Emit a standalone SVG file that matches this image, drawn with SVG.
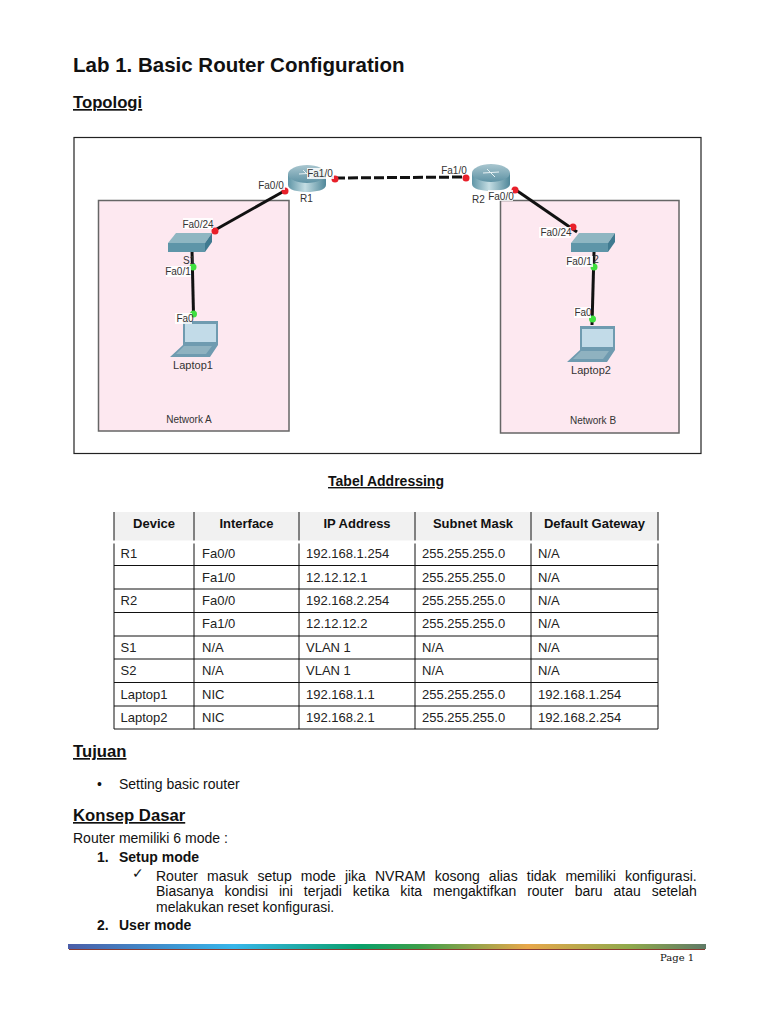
<svg xmlns="http://www.w3.org/2000/svg" width="768" height="1024" viewBox="0 0 768 1024">
<style>
text{font-family:"Liberation Sans",Arial,sans-serif;fill:#111}
.h1{font-size:20.500px;font-weight:700}
.h2{font-size:16.700px;font-weight:700;text-decoration:underline}
.b{font-size:14px}
.bb{font-size:14px;font-weight:700}
.th{font-size:13px;font-weight:700;text-anchor:middle}
.td{font-size:13px;fill:#222}
.n{font-size:10px;fill:#333}
.l{font-size:11px;fill:#333}
.wl{fill:#fff;opacity:.85}
.tl{stroke:#111;stroke-width:1;fill:none}
.pink{fill:#fde8f0;stroke:#666;stroke-width:1.500}
.link{stroke:#111;stroke-width:3;fill:none}
.red{fill:#e8202a}
.green{fill:#3fe03f}
</style>
<defs>
<linearGradient id="rg" x1="0" y1="0" x2="0" y2="1"><stop offset="0" stop-color="#a9c6cf"/><stop offset="1" stop-color="#5f93a5"/></linearGradient>
<linearGradient id="rb" x1="0" y1="0" x2="1" y2="0"><stop offset="0" stop-color="#5f95a6"/><stop offset=".45" stop-color="#c4dde3"/><stop offset="1" stop-color="#4f8799"/></linearGradient>
<linearGradient id="bar" x1="0" y1="0" x2="1" y2="0"><stop offset="0" stop-color="#4b5ea8"/><stop offset=".26" stop-color="#37b6ea"/><stop offset=".46" stop-color="#0aa06a"/><stop offset=".55" stop-color="#3c9f4a"/><stop offset=".72" stop-color="#e8a74a"/><stop offset=".88" stop-color="#8fa94c"/><stop offset="1" stop-color="#5f7a66"/></linearGradient>
<g id="router"><path d="M-19 -3V8C-19 13 -9 15 0 15S19 13 19 8V-3Z" fill="url(#rb)"/><ellipse cx="0" cy="-3" rx="19" ry="9" fill="url(#rg)"/><path d="M-8 -3L8 -4M-4 -7L4 1" stroke="#e6f1f4" stroke-width="1" fill="none"/></g>
<g id="switch"><path d="M0 10L8 0H44L37 10Z" fill="#8fb6c2"/><path d="M0 10H37V19H0Z" fill="#5e95a8"/><path d="M37 10L44 0V9L37 19Z" fill="#3f7a90"/></g>
<g id="laptop"><path d="M13 0H48V24L40 36H0L13 24Z" fill="#6f9bb0"/><rect x="15" y="3" width="31" height="18" fill="#c2dbe8"/><path d="M6 33L14 25H42L36 33Z" fill="#8fb2c0"/></g>
</defs>
<text class="h1" x="73" y="72">Lab 1. Basic Router Configuration</text>
<text class="h2" x="73" y="108">Topologi</text>
<g id="frame"><rect x="74" y="137.500" width="627" height="316" fill="#fff" stroke="#222" stroke-width="1.200"/></g>
<g id="network-a"><rect class="pink" x="98.500" y="200.500" width="190.500" height="230.500"/><text class="n" x="189" y="423" text-anchor="middle">Network A</text></g>
<g id="network-b"><rect class="pink" x="500.500" y="200.500" width="178.500" height="232.500"/><text class="n" x="593" y="424" text-anchor="middle">Network B</text></g>
<g id="connectors">
<path class="link" d="M286 190L215 230"/>
<path class="link" stroke-dasharray="10 3" d="M335 178L468 177"/>
<path class="link" d="M513 188L577 232"/>
<path class="link" d="M192 250L193.500 314"/>
<path class="link" d="M594 252L592 325"/>
<circle class="red" cx="285" cy="191" r="3.500"/><circle class="red" cx="335" cy="179" r="3.500"/><circle class="red" cx="215" cy="231" r="3.500"/><circle class="red" cx="466" cy="178" r="3.500"/><circle class="red" cx="515" cy="190" r="3.500"/><circle class="red" cx="573" cy="227" r="3.500"/>
<circle class="green" cx="193" cy="267" r="3.500"/><circle class="green" cx="193.500" cy="314" r="3.500"/><circle class="green" cx="594" cy="267" r="3.500"/><circle class="green" cx="592.500" cy="319" r="3.500"/>
</g>
<g id="R1"><use href="#router" x="307" y="177"/><text class="n" x="306.500" y="202" text-anchor="middle">R1</text></g>
<g id="R2"><use href="#router" x="491" y="176"/><text class="n" x="478.500" y="203" text-anchor="middle">R2</text></g>
<g id="S1"><use href="#switch" x="168" y="233"/><text class="n" x="189" y="264" text-anchor="middle">S1</text></g>
<g id="S2"><use href="#switch" x="571" y="233"/><text class="n" x="596" y="263" text-anchor="middle">2</text></g>
<g id="Laptop1"><use href="#laptop" x="170" y="321"/><text class="l" x="193" y="369" text-anchor="middle">Laptop1</text></g>
<g id="Laptop2"><use href="#laptop" x="567" y="326"/><text class="l" x="591" y="374" text-anchor="middle">Laptop2</text></g>
<g id="port-labels" text-anchor="middle">
<rect class="wl" x="258" y="179" width="27" height="11"/><text class="n" x="271" y="189">Fa0/0</text>
<rect class="wl" x="307" y="168" width="27" height="11"/><text class="n" x="320" y="177">Fa1/0</text>
<rect class="wl" x="183" y="218" width="30" height="11"/><text class="n" x="198" y="228">Fa0/24</text>
<rect class="wl" x="166" y="266" width="25" height="11"/><text class="n" x="178" y="275">Fa0/1</text>
<rect class="wl" x="175" y="313" width="17" height="11"/><text class="n" x="185" y="322">Fa0</text>
<text class="n" x="454" y="174">Fa1/0</text>
<rect class="wl" x="488" y="190" width="25" height="11"/><text class="n" x="501" y="200">Fa0/0</text>
<rect class="wl" x="539" y="227" width="32" height="11"/><text class="n" x="556" y="236">Fa0/24</text>
<rect class="wl" x="566" y="256" width="27" height="11"/><text class="n" x="579" y="265">Fa0/1</text>
<rect class="wl" x="574" y="307" width="17" height="11"/><text class="n" x="583" y="316">Fa0</text>
</g>
<text class="bb" x="386" y="486" text-anchor="middle" text-decoration="underline">Tabel Addressing</text>
<g id="table">
<rect x="114" y="512" width="544" height="29" fill="#f1f1f1"/>
<path class="tl" d="M114 512V729M194 512V729M299 512V729M415 512V729M531 512V729M658 512V729"/>
<path class="tl" d="M114 565.500H658M114 589H658M114 612.500H658M114 636H658M114 659H658M114 682.500H658M114 706H658M114 729H658"/>
<path d="M112 542H660" stroke="#fff" stroke-width="3"/>
<text class="th" x="154" y="528">Device</text><text class="th" x="246.500" y="528">Interface</text><text class="th" x="357" y="528">IP Address</text><text class="th" x="473" y="528">Subnet Mask</text><text class="th" x="594.500" y="528">Default Gateway</text>
<g>
<text class="td" x="120.500" y="558">R1</text><text class="td" x="202" y="558">Fa0/0</text><text class="td" x="306" y="558">192.168.1.254</text><text class="td" x="422" y="558">255.255.255.0</text><text class="td" x="538" y="558">N/A</text>
<text class="td" x="202" y="582">Fa1/0</text><text class="td" x="306" y="582">12.12.12.1</text><text class="td" x="422" y="582">255.255.255.0</text><text class="td" x="538" y="582">N/A</text>
<text class="td" x="120.500" y="605">R2</text><text class="td" x="202" y="605">Fa0/0</text><text class="td" x="306" y="605">192.168.2.254</text><text class="td" x="422" y="605">255.255.255.0</text><text class="td" x="538" y="605">N/A</text>
<text class="td" x="202" y="628">Fa1/0</text><text class="td" x="306" y="628">12.12.12.2</text><text class="td" x="422" y="628">255.255.255.0</text><text class="td" x="538" y="628">N/A</text>
<text class="td" x="120.500" y="652">S1</text><text class="td" x="202" y="652">N/A</text><text class="td" x="306" y="652">VLAN 1</text><text class="td" x="422" y="652">N/A</text><text class="td" x="538" y="652">N/A</text>
<text class="td" x="120.500" y="675">S2</text><text class="td" x="202" y="675">N/A</text><text class="td" x="306" y="675">VLAN 1</text><text class="td" x="422" y="675">N/A</text><text class="td" x="538" y="675">N/A</text>
<text class="td" x="120.500" y="699">Laptop1</text><text class="td" x="202" y="699">NIC</text><text class="td" x="306" y="699">192.168.1.1</text><text class="td" x="422" y="699">255.255.255.0</text><text class="td" x="538" y="699">192.168.1.254</text>
<text class="td" x="120.500" y="722">Laptop2</text><text class="td" x="202" y="722">NIC</text><text class="td" x="306" y="722">192.168.2.1</text><text class="td" x="422" y="722">255.255.255.0</text><text class="td" x="538" y="722">192.168.2.254</text>
</g>
</g>
<text class="h2" x="73" y="757">Tujuan</text>
<text class="b" x="97" y="789">•</text><text class="b" x="119" y="789">Setting basic router</text>
<text class="h2" x="73" y="821">Konsep Dasar</text>
<text class="b" x="73" y="843">Router memiliki 6 mode :</text>
<text class="bb" x="97" y="862">1.</text><text class="bb" x="119" y="862">Setup mode</text>
<text class="b" x="132" y="878">✓</text>
<text class="b" x="156" y="881" word-spacing="5.2">Router masuk setup mode jika NVRAM kosong alias tidak memiliki konfigurasi.</text>
<text class="b" x="156" y="896" word-spacing="7">Biasanya kondisi ini terjadi ketika kita mengaktifkan router baru atau setelah</text>
<text class="b" x="156" y="912">melakukan reset konfigurasi.</text>
<text class="bb" x="97" y="930">2.</text><text class="bb" x="119" y="930">User mode</text>
<g id="footer"><rect x="68" y="944" width="638" height="5" fill="url(#bar)"/><rect x="69" y="949" width="636" height="1" fill="#8a3a30"/>
<text x="660" y="961" style="font-family:'DejaVu Serif','Liberation Serif',serif;font-size:10px">Page 1</text></g>
</svg>
